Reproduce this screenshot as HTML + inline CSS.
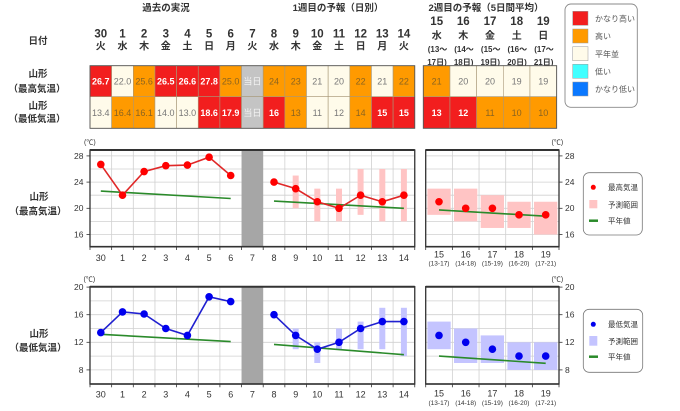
<!DOCTYPE html>
<html><head><meta charset="utf-8">
<style>
html,body{margin:0;padding:0;background:#fff;}
svg{display:block;font-family:"Liberation Sans","Noto Sans CJK JP",sans-serif;}
</style></head>
<body>
<svg width="680" height="411" viewBox="0 0 680 411" xmlns="http://www.w3.org/2000/svg">
<!-- headers -->
<g font-weight="bold" fill="#333" font-size="9.5" text-anchor="middle">
<text x="166" y="11">過去の実況</text>
<text x="338" y="11">1週目の予報（日別）</text>
<text x="486" y="11">2週目の予報（5日間平均）</text>
<text x="38" y="44">日付</text>
<text x="38" y="77">山形</text>
<text x="37" y="92">（最高気温）</text>
<text x="38" y="109">山形</text>
<text x="37" y="122">（最低気温）</text>
</g>
<g font-weight="bold" fill="#333" font-size="11.5" text-anchor="middle">
<text x="100.8" y="37.5">30</text><text x="122.5" y="37.5">1</text><text x="144.1" y="37.5">2</text><text x="165.8" y="37.5">3</text><text x="187.4" y="37.5">4</text><text x="209.1" y="37.5">5</text><text x="230.7" y="37.5">6</text><text x="252.4" y="37.5">7</text><text x="274" y="37.5">8</text><text x="295.7" y="37.5">9</text><text x="317.3" y="37.5">10</text><text x="339" y="37.5">11</text><text x="360.6" y="37.5">12</text><text x="382.3" y="37.5">13</text><text x="403.9" y="37.5">14</text>
<text x="436.7" y="25">15</text><text x="463.3" y="25">16</text><text x="490" y="25">17</text><text x="516.7" y="25">18</text><text x="543.3" y="25">19</text>
</g>
<g font-weight="bold" fill="#333" font-size="10" text-anchor="middle">
<text x="100.8" y="49.5">火</text><text x="122.5" y="49.5">水</text><text x="144.1" y="49.5">木</text><text x="165.8" y="49.5">金</text><text x="187.4" y="49.5">土</text><text x="209.1" y="49.5">日</text><text x="230.7" y="49.5">月</text><text x="252.4" y="49.5">火</text><text x="274" y="49.5">水</text><text x="295.7" y="49.5">木</text><text x="317.3" y="49.5">金</text><text x="339" y="49.5">土</text><text x="360.6" y="49.5">日</text><text x="382.3" y="49.5">月</text><text x="403.9" y="49.5">火</text>
<text x="436.7" y="39">水</text><text x="463.3" y="39">木</text><text x="490" y="39">金</text><text x="516.7" y="39">土</text><text x="543.3" y="39">日</text>
</g>
<g font-weight="bold" fill="#333" font-size="8" text-anchor="middle">
<text x="437.5" y="52">(13～</text><text x="464" y="52">(14～</text><text x="490.7" y="52">(15～</text><text x="517.3" y="52">(16～</text><text x="544" y="52">(17～</text>
<text x="437" y="65">17日)</text><text x="463.6" y="65">18日)</text><text x="490.3" y="65">19日)</text><text x="517" y="65">20日)</text><text x="543.6" y="65">21日)</text>
</g>

<!-- table week1 -->
<g stroke="#a89878" stroke-width="0.6">
<rect x="90" y="65.7" width="21.65" height="31" fill="#f21e1e"/>
<rect x="111.65" y="65.7" width="21.65" height="31" fill="#fffbea"/>
<rect x="133.3" y="65.7" width="21.65" height="31" fill="#ff9a00"/>
<rect x="154.95" y="65.7" width="21.65" height="31" fill="#f21e1e"/>
<rect x="176.6" y="65.7" width="21.65" height="31" fill="#f21e1e"/>
<rect x="198.25" y="65.7" width="21.65" height="31" fill="#f21e1e"/>
<rect x="219.9" y="65.7" width="21.65" height="31" fill="#ff9a00"/>
<rect x="241.55" y="65.7" width="21.65" height="31" fill="#c4c4c4"/>
<rect x="263.2" y="65.7" width="21.65" height="31" fill="#ff9a00"/>
<rect x="284.85" y="65.7" width="21.65" height="31" fill="#ff9a00"/>
<rect x="306.5" y="65.7" width="21.65" height="31" fill="#fffbea"/>
<rect x="328.15" y="65.7" width="21.65" height="31" fill="#fffbea"/>
<rect x="349.8" y="65.7" width="21.65" height="31" fill="#ff9a00"/>
<rect x="371.45" y="65.7" width="21.65" height="31" fill="#fffbea"/>
<rect x="393.1" y="65.7" width="21.65" height="31" fill="#ff9a00"/>
<rect x="90" y="96.7" width="21.65" height="31.6" fill="#fffbea"/>
<rect x="111.65" y="96.7" width="21.65" height="31.6" fill="#ff9a00"/>
<rect x="133.3" y="96.7" width="21.65" height="31.6" fill="#ff9a00"/>
<rect x="154.95" y="96.7" width="21.65" height="31.6" fill="#fffbea"/>
<rect x="176.6" y="96.7" width="21.65" height="31.6" fill="#fffbea"/>
<rect x="198.25" y="96.7" width="21.65" height="31.6" fill="#f21e1e"/>
<rect x="219.9" y="96.7" width="21.65" height="31.6" fill="#f21e1e"/>
<rect x="241.55" y="96.7" width="21.65" height="31.6" fill="#c4c4c4"/>
<rect x="263.2" y="96.7" width="21.65" height="31.6" fill="#f21e1e"/>
<rect x="284.85" y="96.7" width="21.65" height="31.6" fill="#ff9a00"/>
<rect x="306.5" y="96.7" width="21.65" height="31.6" fill="#fffbea"/>
<rect x="328.15" y="96.7" width="21.65" height="31.6" fill="#fffbea"/>
<rect x="349.8" y="96.7" width="21.65" height="31.6" fill="#ff9a00"/>
<rect x="371.45" y="96.7" width="21.65" height="31.6" fill="#f21e1e"/>
<rect x="393.1" y="96.7" width="21.65" height="31.6" fill="#f21e1e"/>
<rect x="423.3" y="65.7" width="26.67" height="31" fill="#ff9a00"/>
<rect x="449.97" y="65.7" width="26.67" height="31" fill="#fffbea"/>
<rect x="476.63" y="65.7" width="26.67" height="31" fill="#fffbea"/>
<rect x="503.3" y="65.7" width="26.67" height="31" fill="#fffbea"/>
<rect x="529.97" y="65.7" width="26.67" height="31" fill="#fffbea"/>
<rect x="423.3" y="96.7" width="26.67" height="31.6" fill="#f21e1e"/>
<rect x="449.97" y="96.7" width="26.67" height="31.6" fill="#f21e1e"/>
<rect x="476.63" y="96.7" width="26.67" height="31.6" fill="#ff9a00"/>
<rect x="503.3" y="96.7" width="26.67" height="31.6" fill="#ff9a00"/>
<rect x="529.97" y="96.7" width="26.67" height="31.6" fill="#ff9a00"/>
</g>
<rect x="90" y="65.7" width="324.75" height="62.6" fill="none" stroke="#555" stroke-width="0.9"/>
<rect x="423.3" y="65.7" width="133.35" height="62.6" fill="none" stroke="#555" stroke-width="0.9"/>
<g font-size="9" text-anchor="middle">
<text x="100.8" y="84.5" fill="#fff" font-weight="bold">26.7</text>
<text x="122.5" y="84.5" fill="#777">22.0</text>
<text x="144.1" y="84.5" fill="#8a6420">25.6</text>
<text x="165.8" y="84.5" fill="#fff" font-weight="bold">26.5</text>
<text x="187.4" y="84.5" fill="#fff" font-weight="bold">26.6</text>
<text x="209.1" y="84.5" fill="#fff" font-weight="bold">27.8</text>
<text x="230.7" y="84.5" fill="#8a6420">25.0</text>
<text x="252.4" y="84.5" fill="#f4f4f4">当日</text>
<text x="274" y="84.5" fill="#8a6420">24</text>
<text x="295.7" y="84.5" fill="#8a6420">23</text>
<text x="317.3" y="84.5" fill="#777">21</text>
<text x="339" y="84.5" fill="#777">20</text>
<text x="360.6" y="84.5" fill="#8a6420">22</text>
<text x="382.3" y="84.5" fill="#777">21</text>
<text x="403.9" y="84.5" fill="#8a6420">22</text>
<text x="100.8" y="115.8" fill="#777">13.4</text>
<text x="122.5" y="115.8" fill="#8a6420">16.4</text>
<text x="144.1" y="115.8" fill="#8a6420">16.1</text>
<text x="165.8" y="115.8" fill="#777">14.0</text>
<text x="187.4" y="115.8" fill="#777">13.0</text>
<text x="209.1" y="115.8" fill="#fff" font-weight="bold">18.6</text>
<text x="230.7" y="115.8" fill="#fff" font-weight="bold">17.9</text>
<text x="252.4" y="115.8" fill="#f4f4f4">当日</text>
<text x="274" y="115.8" fill="#fff" font-weight="bold">16</text>
<text x="295.7" y="115.8" fill="#8a6420">13</text>
<text x="317.3" y="115.8" fill="#777">11</text>
<text x="339" y="115.8" fill="#777">12</text>
<text x="360.6" y="115.8" fill="#8a6420">14</text>
<text x="382.3" y="115.8" fill="#fff" font-weight="bold">15</text>
<text x="403.9" y="115.8" fill="#fff" font-weight="bold">15</text>
<text x="436.6" y="84.5" fill="#8a6420">21</text>
<text x="463.3" y="84.5" fill="#777">20</text>
<text x="490" y="84.5" fill="#777">20</text>
<text x="516.6" y="84.5" fill="#777">19</text>
<text x="543.3" y="84.5" fill="#777">19</text>
<text x="436.6" y="115.8" fill="#fff" font-weight="bold">13</text>
<text x="463.3" y="115.8" fill="#fff" font-weight="bold">12</text>
<text x="490" y="115.8" fill="#8a6420">11</text>
<text x="516.6" y="115.8" fill="#8a6420">10</text>
<text x="543.3" y="115.8" fill="#8a6420">10</text>
</g>

<!-- top legend -->
<rect x="565" y="4" width="72.3" height="103.3" rx="6" fill="#fff" stroke="#888" stroke-width="0.9"/>
<g stroke="#999" stroke-width="0.5">
<rect x="572.7" y="11.3" width="15.3" height="14" fill="#f21e1e"/>
<rect x="572.7" y="29" width="15.3" height="14" fill="#ff9a00"/>
<rect x="572.7" y="46.7" width="15.3" height="14" fill="#fffbea"/>
<rect x="572.7" y="64.3" width="15.3" height="14" fill="#40ffff"/>
<rect x="572.7" y="82" width="15.3" height="14" fill="#0a78ff"/>
</g>
<g font-size="8" fill="#555">
<text x="595" y="21.5">かなり高い</text>
<text x="595" y="39">高い</text>
<text x="595" y="56.8">平年並</text>
<text x="595" y="74.5">低い</text>
<text x="595" y="92">かなり低い</text>
</g>

<!-- ========== CHART A (max) ========== -->
<g font-weight="bold" fill="#333" font-size="9.5" text-anchor="middle">
<text x="39" y="200">山形</text>
<text x="38" y="214.5">（最高気温）</text>
<text x="39" y="337">山形</text>
<text x="38" y="351">（最低気温）</text>
</g>
<g stroke="#d0d0d0" stroke-width="0.8">
<line x1="90" x2="414.75" y1="234.5" y2="234.5"/><line x1="90" x2="414.75" y1="221.4" y2="221.4"/><line x1="90" x2="414.75" y1="208.3" y2="208.3"/><line x1="90" x2="414.75" y1="195.2" y2="195.2"/><line x1="90" x2="414.75" y1="182.1" y2="182.1"/><line x1="90" x2="414.75" y1="169" y2="169"/><line x1="90" x2="414.75" y1="155.9" y2="155.9"/>
<line x1="111.65" x2="111.65" y1="150" y2="246.7"/><line x1="133.3" x2="133.3" y1="150" y2="246.7"/><line x1="154.95" x2="154.95" y1="150" y2="246.7"/><line x1="176.6" x2="176.6" y1="150" y2="246.7"/><line x1="198.25" x2="198.25" y1="150" y2="246.7"/><line x1="219.9" x2="219.9" y1="150" y2="246.7"/><line x1="284.85" x2="284.85" y1="150" y2="246.7"/><line x1="306.5" x2="306.5" y1="150" y2="246.7"/><line x1="328.15" x2="328.15" y1="150" y2="246.7"/><line x1="349.8" x2="349.8" y1="150" y2="246.7"/><line x1="371.45" x2="371.45" y1="150" y2="246.7"/><line x1="393.1" x2="393.1" y1="150" y2="246.7"/>
<line x1="425.7" x2="559" y1="234.5" y2="234.5"/><line x1="425.7" x2="559" y1="221.4" y2="221.4"/><line x1="425.7" x2="559" y1="208.3" y2="208.3"/><line x1="425.7" x2="559" y1="195.2" y2="195.2"/><line x1="425.7" x2="559" y1="182.1" y2="182.1"/><line x1="425.7" x2="559" y1="169" y2="169"/><line x1="425.7" x2="559" y1="155.9" y2="155.9"/>
<line x1="452.37" x2="452.37" y1="150" y2="246.7"/><line x1="479.03" x2="479.03" y1="150" y2="246.7"/><line x1="505.7" x2="505.7" y1="150" y2="246.7"/><line x1="532.37" x2="532.37" y1="150" y2="246.7"/>
</g>
<rect x="241.55" y="150" width="21.65" height="96.7" fill="#a6a6a6"/>
<g fill="#ffc4c4">
<rect x="292.7" y="175.55" width="6" height="32.75"/>
<rect x="314.3" y="188.65" width="6" height="32.75"/>
<rect x="336" y="188.65" width="6" height="32.75"/>
<rect x="357.6" y="169" width="6" height="45.85"/>
<rect x="379.3" y="169" width="6" height="52.4"/>
<rect x="400.9" y="169" width="6" height="52.4"/>
<rect x="427.4" y="188.65" width="23.3" height="26.2"/>
<rect x="454" y="188.65" width="23.3" height="32.75"/>
<rect x="480.7" y="195.2" width="23.3" height="32.75"/>
<rect x="507.4" y="201.75" width="23.3" height="26.2"/>
<rect x="534" y="201.75" width="23.3" height="32.75"/>
</g>
<g stroke="#2a8a2a" stroke-width="1.6" fill="none">
<line x1="100.8" y1="191.1" x2="230.7" y2="198.5"/>
<line x1="274" y1="201.1" x2="403.9" y2="208.3"/>
<line x1="439" y1="209.9" x2="545.7" y2="216.2"/>
</g>
<g stroke="#e02828" stroke-width="1.6" fill="none">
<polyline points="100.8,164.4 122.5,195.2 144.1,171.6 165.8,165.7 187.4,165.1 209.1,157.2 230.7,175.5"/>
<polyline points="274,182.1 295.7,188.65 317.3,201.75 339,208.3 360.6,195.2 382.3,201.75 403.9,195.2"/>
</g>
<g fill="#ff0000">
<circle cx="100.8" cy="164.4" r="3.8"/><circle cx="122.5" cy="195.2" r="3.8"/><circle cx="144.1" cy="171.6" r="3.8"/><circle cx="165.8" cy="165.7" r="3.8"/><circle cx="187.4" cy="165.1" r="3.8"/><circle cx="209.1" cy="157.2" r="3.8"/><circle cx="230.7" cy="175.5" r="3.8"/>
<circle cx="274" cy="182.1" r="3.8"/><circle cx="295.7" cy="188.65" r="3.8"/><circle cx="317.3" cy="201.75" r="3.8"/><circle cx="339" cy="208.3" r="3.8"/><circle cx="360.6" cy="195.2" r="3.8"/><circle cx="382.3" cy="201.75" r="3.8"/><circle cx="403.9" cy="195.2" r="3.8"/>
<circle cx="439" cy="201.75" r="3.8"/><circle cx="465.7" cy="208.3" r="3.8"/><circle cx="492.4" cy="208.3" r="3.8"/><circle cx="519" cy="214.85" r="3.8"/><circle cx="545.7" cy="214.85" r="3.8"/>
</g>
<g stroke="#333" fill="none">
<rect x="90" y="150" width="324.75" height="96.7" stroke-width="1.3"/>
<line x1="90" x2="414.75" y1="150" y2="150" stroke-width="2"/>
<line x1="90" x2="414.75" y1="246.7" y2="246.7" stroke-width="1.6"/>
<rect x="425.7" y="150" width="133.3" height="96.7" stroke-width="1.3"/>
<line x1="425.7" x2="559" y1="150" y2="150" stroke-width="2"/>
<line x1="425.7" x2="559" y1="246.7" y2="246.7" stroke-width="1.6"/>
</g>
<g stroke="#333" stroke-width="0.8">
<line x1="86.5" x2="90" y1="155.9" y2="155.9"/><line x1="86.5" x2="90" y1="182.1" y2="182.1"/><line x1="86.5" x2="90" y1="208.3" y2="208.3"/><line x1="86.5" x2="90" y1="234.5" y2="234.5"/>
<line x1="559" x2="562.5" y1="155.9" y2="155.9"/><line x1="559" x2="562.5" y1="182.1" y2="182.1"/><line x1="559" x2="562.5" y1="208.3" y2="208.3"/><line x1="559" x2="562.5" y1="234.5" y2="234.5"/>
<line x1="90" x2="90" y1="246.7" y2="250"/><line x1="111.65" x2="111.65" y1="246.7" y2="250"/><line x1="133.3" x2="133.3" y1="246.7" y2="250"/><line x1="154.95" x2="154.95" y1="246.7" y2="250"/><line x1="176.6" x2="176.6" y1="246.7" y2="250"/><line x1="198.25" x2="198.25" y1="246.7" y2="250"/><line x1="219.9" x2="219.9" y1="246.7" y2="250"/><line x1="241.55" x2="241.55" y1="246.7" y2="250"/><line x1="263.2" x2="263.2" y1="246.7" y2="250"/><line x1="284.85" x2="284.85" y1="246.7" y2="250"/><line x1="306.5" x2="306.5" y1="246.7" y2="250"/><line x1="328.15" x2="328.15" y1="246.7" y2="250"/><line x1="349.8" x2="349.8" y1="246.7" y2="250"/><line x1="371.45" x2="371.45" y1="246.7" y2="250"/><line x1="393.1" x2="393.1" y1="246.7" y2="250"/><line x1="414.75" x2="414.75" y1="246.7" y2="250"/>
<line x1="425.7" x2="425.7" y1="246.7" y2="250"/><line x1="452.37" x2="452.37" y1="246.7" y2="250"/><line x1="479.03" x2="479.03" y1="246.7" y2="250"/><line x1="505.7" x2="505.7" y1="246.7" y2="250"/><line x1="532.37" x2="532.37" y1="246.7" y2="250"/><line x1="559" x2="559" y1="246.7" y2="250"/>
</g>
<g font-size="8.5" fill="#333">
<text x="83.5" y="158.8" text-anchor="end">28</text><text x="83.5" y="185" text-anchor="end">24</text><text x="83.5" y="211.2" text-anchor="end">20</text><text x="83.5" y="237.4" text-anchor="end">16</text>
<text x="565" y="158.8">28</text><text x="565" y="185">24</text><text x="565" y="211.2">20</text><text x="565" y="237.4">16</text>
</g>
<g font-size="7" fill="#333">
<text x="84" y="144.5">(℃)</text>
<text x="551.5" y="144.5">(℃)</text>
</g>
<g font-size="9" fill="#333" text-anchor="middle">
<text x="100.8" y="261">30</text><text x="122.5" y="261">1</text><text x="144.1" y="261">2</text><text x="165.8" y="261">3</text><text x="187.4" y="261">4</text><text x="209.1" y="261">5</text><text x="230.7" y="261">6</text><text x="252.4" y="261">7</text><text x="274" y="261">8</text><text x="295.7" y="261">9</text><text x="317.3" y="261">10</text><text x="339" y="261">11</text><text x="360.6" y="261">12</text><text x="382.3" y="261">13</text><text x="403.9" y="261">14</text>
<text x="439" y="257.3">15</text><text x="465.7" y="257.3">16</text><text x="492.4" y="257.3">17</text><text x="519" y="257.3">18</text><text x="545.7" y="257.3">19</text>
</g>
<g font-size="6.5" fill="#333" text-anchor="middle">
<text x="439" y="265.5">(13-17)</text><text x="465.7" y="265.5">(14-18)</text><text x="492.4" y="265.5">(15-19)</text><text x="519" y="265.5">(16-20)</text><text x="545.7" y="265.5">(17-21)</text>
</g>
<rect x="583.3" y="172.7" width="59" height="62.3" rx="6" fill="#fff" stroke="#777" stroke-width="0.8"/>
<circle cx="593.3" cy="187.3" r="2.5" fill="#ff0000"/>
<rect x="589.3" y="200" width="8" height="8.3" fill="#ffc4c4"/>
<line x1="589" x2="598" y1="220.7" y2="220.7" stroke="#2a8a2a" stroke-width="2.5"/>
<g font-size="7.5" fill="#333">
<text x="608" y="190">最高気温</text>
<text x="608" y="207.5">予測範囲</text>
<text x="608" y="223.5">平年値</text>
</g>

<!-- ========== CHART B (min) ========== -->
<g stroke="#d0d0d0" stroke-width="0.8">
<line x1="90" x2="414.75" y1="369.9" y2="369.9"/><line x1="90" x2="414.75" y1="356.1" y2="356.1"/><line x1="90" x2="414.75" y1="342.3" y2="342.3"/><line x1="90" x2="414.75" y1="328.5" y2="328.5"/><line x1="90" x2="414.75" y1="314.7" y2="314.7"/><line x1="90" x2="414.75" y1="300.9" y2="300.9"/>
<line x1="111.65" x2="111.65" y1="286.7" y2="384"/><line x1="133.3" x2="133.3" y1="286.7" y2="384"/><line x1="154.95" x2="154.95" y1="286.7" y2="384"/><line x1="176.6" x2="176.6" y1="286.7" y2="384"/><line x1="198.25" x2="198.25" y1="286.7" y2="384"/><line x1="219.9" x2="219.9" y1="286.7" y2="384"/><line x1="284.85" x2="284.85" y1="286.7" y2="384"/><line x1="306.5" x2="306.5" y1="286.7" y2="384"/><line x1="328.15" x2="328.15" y1="286.7" y2="384"/><line x1="349.8" x2="349.8" y1="286.7" y2="384"/><line x1="371.45" x2="371.45" y1="286.7" y2="384"/><line x1="393.1" x2="393.1" y1="286.7" y2="384"/>
<line x1="425.7" x2="559" y1="369.9" y2="369.9"/><line x1="425.7" x2="559" y1="356.1" y2="356.1"/><line x1="425.7" x2="559" y1="342.3" y2="342.3"/><line x1="425.7" x2="559" y1="328.5" y2="328.5"/><line x1="425.7" x2="559" y1="314.7" y2="314.7"/><line x1="425.7" x2="559" y1="300.9" y2="300.9"/>
<line x1="452.37" x2="452.37" y1="286.7" y2="384"/><line x1="479.03" x2="479.03" y1="286.7" y2="384"/><line x1="505.7" x2="505.7" y1="286.7" y2="384"/><line x1="532.37" x2="532.37" y1="286.7" y2="384"/>
</g>
<rect x="241.55" y="286.7" width="21.65" height="97.3" fill="#a6a6a6"/>
<g fill="#c4c4ff">
<rect x="292.7" y="328.5" width="6" height="20.7"/>
<rect x="314.3" y="342.3" width="6" height="20.7"/>
<rect x="336" y="328.5" width="6" height="20.7"/>
<rect x="357.6" y="321.6" width="6" height="27.6"/>
<rect x="379.3" y="307.8" width="6" height="41.4"/>
<rect x="400.9" y="307.8" width="6" height="48.3"/>
<rect x="427.4" y="321.6" width="23.3" height="27.6"/>
<rect x="454" y="328.5" width="23.3" height="34.5"/>
<rect x="480.7" y="335.4" width="23.3" height="27.6"/>
<rect x="507.4" y="342.3" width="23.3" height="27.6"/>
<rect x="534" y="342.3" width="23.3" height="27.6"/>
</g>
<g stroke="#2a8a2a" stroke-width="1.6" fill="none">
<line x1="100.8" y1="334.3" x2="230.7" y2="341.6"/>
<line x1="274" y1="344.4" x2="403.9" y2="354.7"/>
<line x1="439" y1="356.1" x2="545.7" y2="363.3"/>
</g>
<g stroke="#2020d0" stroke-width="1.6" fill="none">
<polyline points="100.8,332.6 122.5,311.9 144.1,314 165.8,328.5 187.4,335.4 209.1,296.8 230.7,301.6"/>
<polyline points="274,314.7 295.7,335.4 317.3,349.2 339,342.3 360.6,328.5 382.3,321.6 403.9,321.6"/>
</g>
<g fill="#0000ee">
<circle cx="100.8" cy="332.6" r="3.8"/><circle cx="122.5" cy="311.9" r="3.8"/><circle cx="144.1" cy="314" r="3.8"/><circle cx="165.8" cy="328.5" r="3.8"/><circle cx="187.4" cy="335.4" r="3.8"/><circle cx="209.1" cy="296.8" r="3.8"/><circle cx="230.7" cy="301.6" r="3.8"/>
<circle cx="274" cy="314.7" r="3.8"/><circle cx="295.7" cy="335.4" r="3.8"/><circle cx="317.3" cy="349.2" r="3.8"/><circle cx="339" cy="342.3" r="3.8"/><circle cx="360.6" cy="328.5" r="3.8"/><circle cx="382.3" cy="321.6" r="3.8"/><circle cx="403.9" cy="321.6" r="3.8"/>
<circle cx="439" cy="335.4" r="3.8"/><circle cx="465.7" cy="342.3" r="3.8"/><circle cx="492.4" cy="349.2" r="3.8"/><circle cx="519" cy="356.1" r="3.8"/><circle cx="545.7" cy="356.1" r="3.8"/>
</g>
<g stroke="#333" fill="none">
<rect x="90" y="286.7" width="324.75" height="97.3" stroke-width="1.3"/>
<line x1="90" x2="414.75" y1="286.7" y2="286.7" stroke-width="2"/>
<line x1="90" x2="414.75" y1="384" y2="384" stroke-width="1.6"/>
<rect x="425.7" y="286.7" width="133.3" height="97.3" stroke-width="1.3"/>
<line x1="425.7" x2="559" y1="286.7" y2="286.7" stroke-width="2"/>
<line x1="425.7" x2="559" y1="384" y2="384" stroke-width="1.6"/>
</g>
<g stroke="#333" stroke-width="0.8">
<line x1="86.5" x2="90" y1="287.1" y2="287.1"/><line x1="86.5" x2="90" y1="314.7" y2="314.7"/><line x1="86.5" x2="90" y1="342.3" y2="342.3"/><line x1="86.5" x2="90" y1="369.9" y2="369.9"/>
<line x1="559" x2="562.5" y1="287.1" y2="287.1"/><line x1="559" x2="562.5" y1="314.7" y2="314.7"/><line x1="559" x2="562.5" y1="342.3" y2="342.3"/><line x1="559" x2="562.5" y1="369.9" y2="369.9"/>
<line x1="90" x2="90" y1="384" y2="387.3"/><line x1="111.65" x2="111.65" y1="384" y2="387.3"/><line x1="133.3" x2="133.3" y1="384" y2="387.3"/><line x1="154.95" x2="154.95" y1="384" y2="387.3"/><line x1="176.6" x2="176.6" y1="384" y2="387.3"/><line x1="198.25" x2="198.25" y1="384" y2="387.3"/><line x1="219.9" x2="219.9" y1="384" y2="387.3"/><line x1="241.55" x2="241.55" y1="384" y2="387.3"/><line x1="263.2" x2="263.2" y1="384" y2="387.3"/><line x1="284.85" x2="284.85" y1="384" y2="387.3"/><line x1="306.5" x2="306.5" y1="384" y2="387.3"/><line x1="328.15" x2="328.15" y1="384" y2="387.3"/><line x1="349.8" x2="349.8" y1="384" y2="387.3"/><line x1="371.45" x2="371.45" y1="384" y2="387.3"/><line x1="393.1" x2="393.1" y1="384" y2="387.3"/><line x1="414.75" x2="414.75" y1="384" y2="387.3"/>
<line x1="425.7" x2="425.7" y1="384" y2="387.3"/><line x1="452.37" x2="452.37" y1="384" y2="387.3"/><line x1="479.03" x2="479.03" y1="384" y2="387.3"/><line x1="505.7" x2="505.7" y1="384" y2="387.3"/><line x1="532.37" x2="532.37" y1="384" y2="387.3"/><line x1="559" x2="559" y1="384" y2="387.3"/>
</g>
<g font-size="8.5" fill="#333">
<text x="83.5" y="290" text-anchor="end">20</text><text x="83.5" y="317.6" text-anchor="end">16</text><text x="83.5" y="345.2" text-anchor="end">12</text><text x="83.5" y="372.8" text-anchor="end">8</text>
<text x="565" y="290">20</text><text x="565" y="317.6">16</text><text x="565" y="345.2">12</text><text x="565" y="372.8">8</text>
</g>
<g font-size="7" fill="#333">
<text x="83.5" y="281.5">(℃)</text>
<text x="551.5" y="281.5">(℃)</text>
</g>
<g font-size="9" fill="#333" text-anchor="middle">
<text x="100.8" y="397.5">30</text><text x="122.5" y="397.5">1</text><text x="144.1" y="397.5">2</text><text x="165.8" y="397.5">3</text><text x="187.4" y="397.5">4</text><text x="209.1" y="397.5">5</text><text x="230.7" y="397.5">6</text><text x="252.4" y="397.5">7</text><text x="274" y="397.5">8</text><text x="295.7" y="397.5">9</text><text x="317.3" y="397.5">10</text><text x="339" y="397.5">11</text><text x="360.6" y="397.5">12</text><text x="382.3" y="397.5">13</text><text x="403.9" y="397.5">14</text>
<text x="439" y="396.5">15</text><text x="465.7" y="396.5">16</text><text x="492.4" y="396.5">17</text><text x="519" y="396.5">18</text><text x="545.7" y="396.5">19</text>
</g>
<g font-size="6.5" fill="#333" text-anchor="middle">
<text x="439" y="405">(13-17)</text><text x="465.7" y="405">(14-18)</text><text x="492.4" y="405">(15-19)</text><text x="519" y="405">(16-20)</text><text x="545.7" y="405">(17-21)</text>
</g>
<rect x="583.3" y="309.3" width="59.4" height="63" rx="6" fill="#fff" stroke="#777" stroke-width="0.8"/>
<circle cx="593.3" cy="324.3" r="2.5" fill="#0000ee"/>
<rect x="589.3" y="336" width="8" height="9.7" fill="#c4c4ff"/>
<line x1="589" x2="598" y1="356.7" y2="356.7" stroke="#2a8a2a" stroke-width="2.5"/>
<g font-size="7.5" fill="#333">
<text x="608" y="327">最低気温</text>
<text x="608" y="344">予測範囲</text>
<text x="608" y="359.5">平年値</text>
</g>
</svg>
</body></html>
